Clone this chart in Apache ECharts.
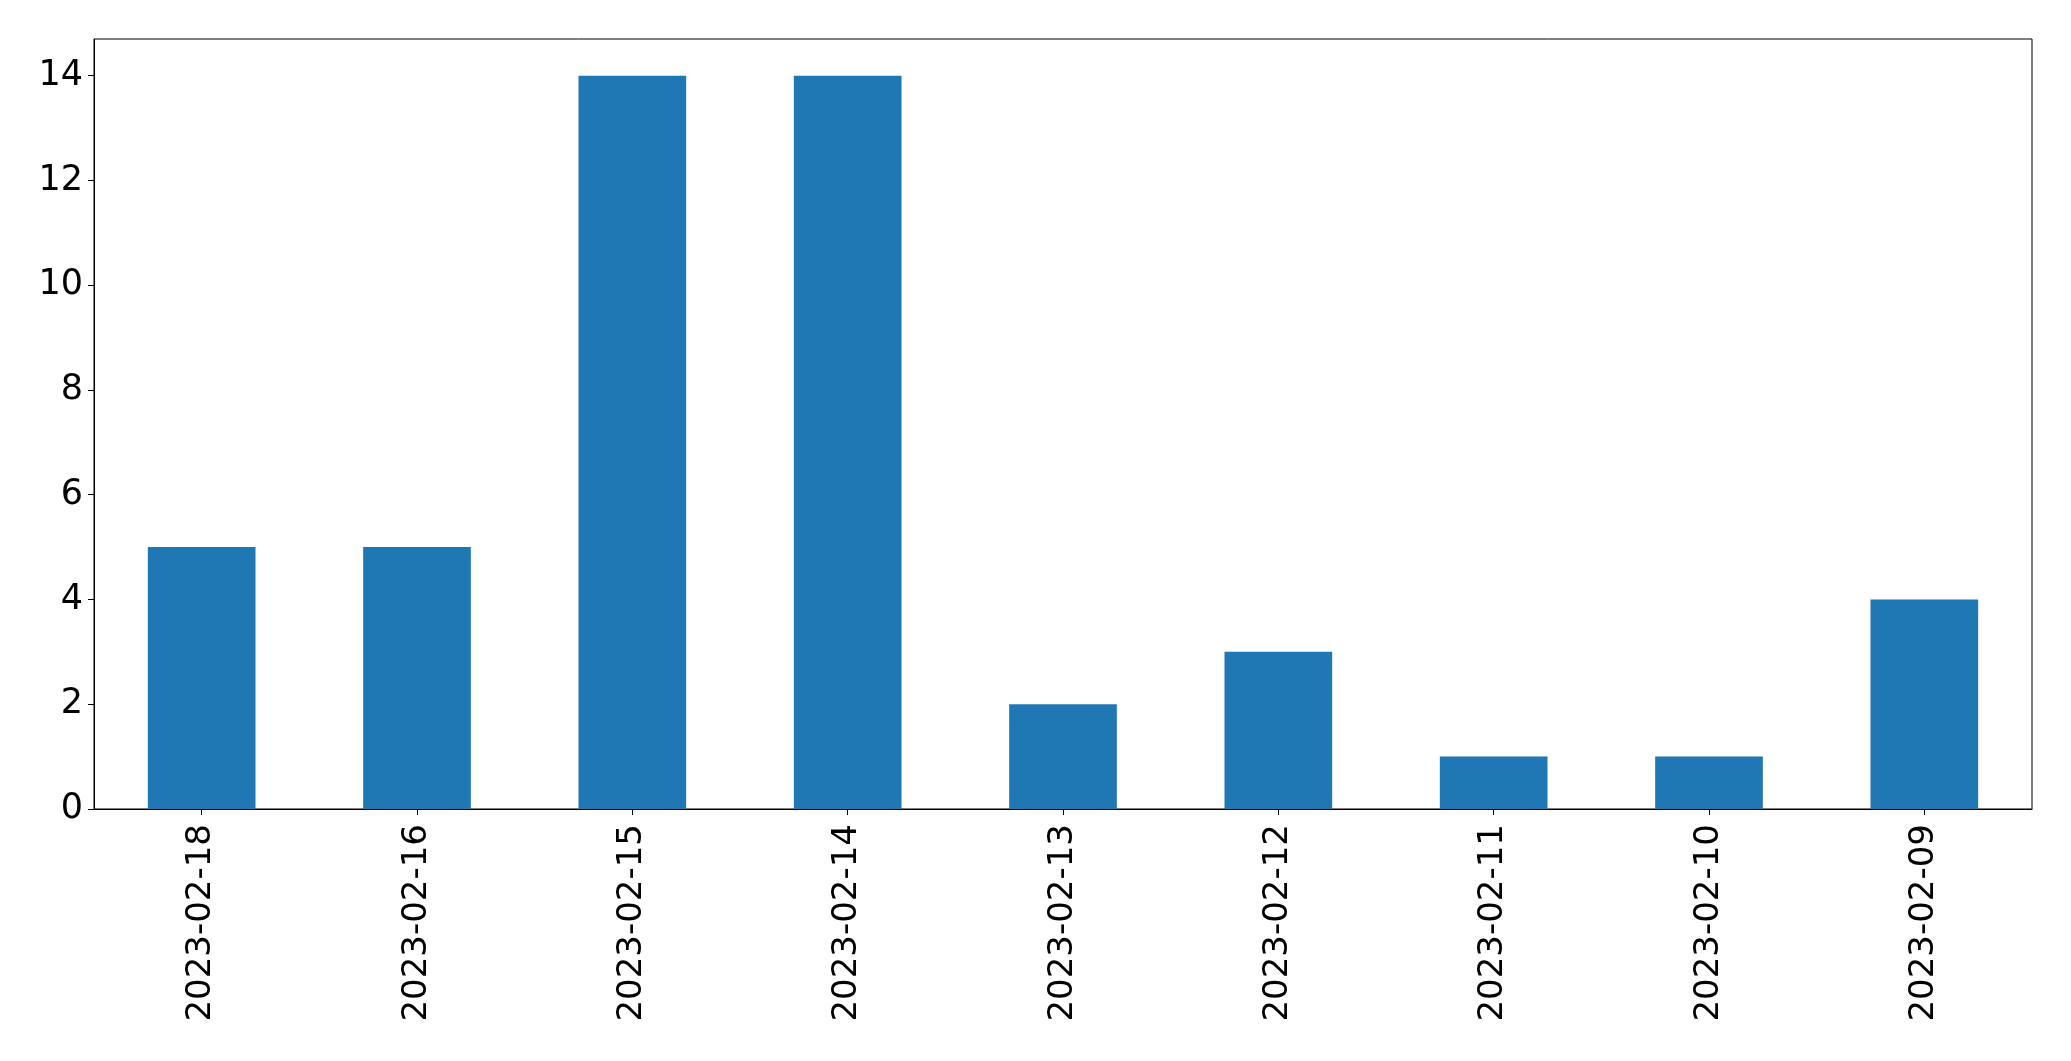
<!DOCTYPE html>
<html>
<head>
<meta charset="utf-8">
<script src="https://cdn.jsdelivr.net/npm/echarts@6/dist/echarts.min.js"></script>
<style>
html,body{margin:0;padding:0;background:#fff;}
#chart{width:2071px;height:1061px;}
</style>
</head>
<body>
<div id="chart"></div>
<script>
const categories = ["2023-02-18","2023-02-16","2023-02-15","2023-02-14","2023-02-13","2023-02-12","2023-02-11","2023-02-10","2023-02-09"];
const values = [5, 5, 14, 14, 2, 3, 1, 1, 4];
const yTicks = [0, 2, 4, 6, 8, 10, 12, 14];

const chart = echarts.init(document.getElementById('chart'), null, {renderer: 'canvas'});
chart.setOption({
  animation: false,
  backgroundColor: '#ffffff',
  grid: {
    left: 94, right: 39, top: 39, bottom: 252,
    show: true, borderColor: '#000000', borderWidth: 1, backgroundColor: 'transparent'
  },
  xAxis: {
    type: 'category',
    data: categories,
    boundaryGap: true,
    axisLine: {show: true, lineStyle: {color: '#000', width: 1}},
    axisTick: {show: true, alignWithLabel: true, length: 6, lineStyle: {color: '#000', width: 1}},
    axisLabel: {
      rotate: 90, margin: 15, color: '#000',
      fontFamily: 'DejaVu Sans', fontSize: 34, interval: 0
    },
    splitLine: {show: false}
  },
  yAxis: {
    type: 'value',
    min: 0, max: 14.7,
    axisLine: {show: true, lineStyle: {color: '#000', width: 1}},
    axisTick: {show: true, length: 6, customValues: yTicks, lineStyle: {color: '#000', width: 1}},
    axisLabel: {
      margin: 11, color: '#000', fontFamily: 'DejaVu Sans', fontSize: 35,
      customValues: yTicks
    },
    splitLine: {show: false}
  },
  series: [{
    type: 'bar',
    data: values,
    barWidth: '50%',
    itemStyle: {color: '#1f77b4', borderWidth: 0}
  }]
});
</script>
</body>
</html>
